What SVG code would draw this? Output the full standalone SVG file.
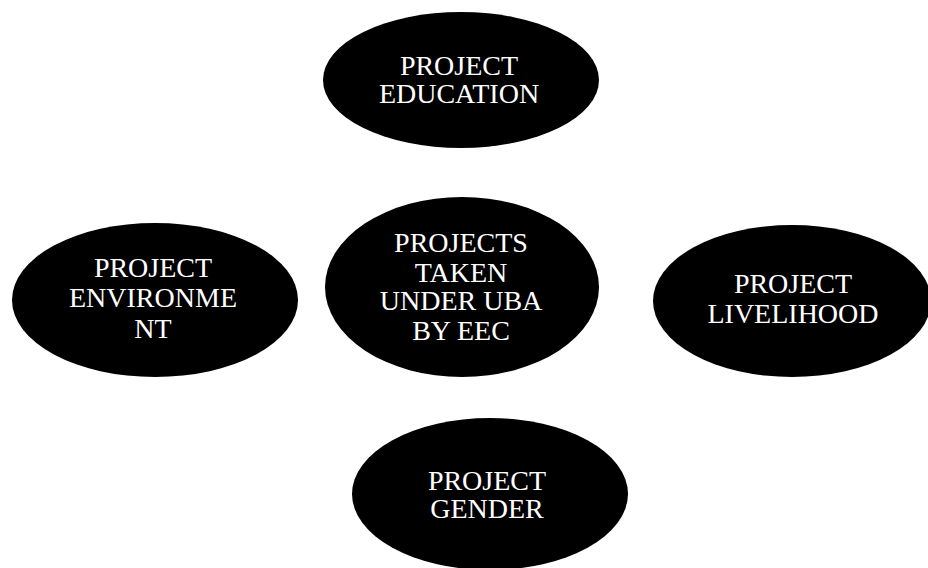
<svg xmlns="http://www.w3.org/2000/svg" width="928" height="568" viewBox="0 0 928 568">
<style>
.node ellipse{fill:#000;}
.node text{fill:#fff;font-family:"Liberation Serif","Times New Roman",serif;font-size:28px;text-anchor:middle;}
</style>
<rect width="928" height="568" fill="#fff"/>
<g id="connectors"></g>
<g id="education" class="node">
<ellipse cx="461" cy="80" rx="138" ry="68"/>
<text x="459" y="75">PROJECT</text>
<text x="459" y="103">EDUCATION</text>
</g>
<g id="center" class="node">
<ellipse cx="462" cy="287" rx="137" ry="90"/>
<text x="461" y="252">PROJECTS</text>
<text x="461" y="282">TAKEN</text>
<text x="461" y="310">UNDER UBA</text>
<text x="461" y="340">BY EEC</text>
</g>
<g id="environment" class="node">
<ellipse cx="155" cy="300" rx="143" ry="77"/>
<text x="153" y="277">PROJECT</text>
<text x="153" y="307">ENVIRONME</text>
<text x="153" y="338">NT</text>
</g>
<g id="livelihood" class="node">
<ellipse cx="792" cy="301" rx="139" ry="76"/>
<text x="793" y="293">PROJECT</text>
<text x="793" y="323">LIVELIHOOD</text>
</g>
<g id="gender" class="node">
<ellipse cx="490" cy="494" rx="138" ry="76"/>
<text x="487" y="490">PROJECT</text>
<text x="487" y="518">GENDER</text>
</g>
</svg>
